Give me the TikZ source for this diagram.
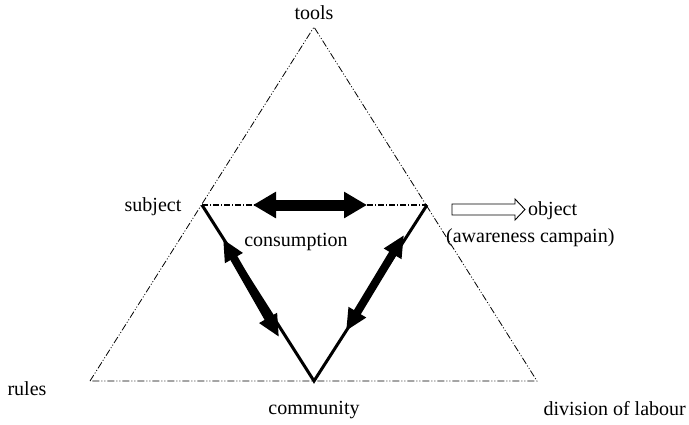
\documentclass[tikz,border=0pt]{standalone}
\usepackage{fontspec}
\setmainfont{Liberation Serif}
\usetikzlibrary{arrows.meta}
\tikzset{
  lbl/.style={inner sep=0pt, font=\fontsize{20}{24}\selectfont},
  outerline/.style={line width=0.8pt, dash pattern=on 7pt off 2pt on 1pt off 2pt on 1pt off 2pt},
  innerline/.style={line width=3pt},
  bigarrow/.style={line width=11pt, {Triangle[length=23pt,width=25pt]}-{Triangle[length=23pt,width=25pt]}},
  sidearrow/.style={line width=8pt, {Triangle[length=22pt,width=19pt]}-{Triangle[length=22pt,width=19pt]}},
}
\begin{document}
\begin{tikzpicture}[x=1pt,y=-1pt]
\useasboundingbox (0,0) rectangle (689,424);
% vertices
\coordinate (T) at (314,27);
\coordinate (L) at (90,381);
\coordinate (R) at (537,381);
\coordinate (S) at (202,205);
\coordinate (O) at (427,205);
\coordinate (C) at (314,381);
% outer triangle
\draw[outerline] (L) -- (T) -- (R) -- cycle;
% inner triangle
\draw[innerline, line join=miter] (S) -- (C) -- (O);
\draw[line width=2.2pt, dash pattern=on 6pt off 2pt on 1pt off 2pt] (S) -- (O);
% arrows
\coordinate (a1) at (253,205);
\coordinate (a2) at (367,205);
\draw[bigarrow] (a1) -- (a2);
\coordinate (b1) at (223,239);
\coordinate (b2) at (279,337);
\draw[sidearrow] (b1) -- (b2);
\coordinate (c1) at (404,235);
\coordinate (c2) at (346,331);
\draw[sidearrow] (c1) -- (c2);
% hollow arrow
\draw[line width=0.9pt, line join=miter] (452,204) -- (515,204) -- (515,199) -- (525,209.5) -- (515,220) -- (515,215) -- (452,215) -- cycle;
% labels
\node[lbl] (tools) at (314,13) {tools};
\node[lbl] (subject) at (153,207) {subject};
\node[lbl, anchor=west] (object) at (528,211) {object};
\node[lbl, anchor=west] (campaign) at (446,238) {(awareness campain)};
\node[lbl] (consumption) at (296,242) {consumption};
\node[lbl] (rules) at (27,389) {rules};
\node[lbl] (community) at (314,410) {community};
\node[lbl, anchor=east] (division) at (686,409) {division of labour};
\end{tikzpicture}
\end{document}
